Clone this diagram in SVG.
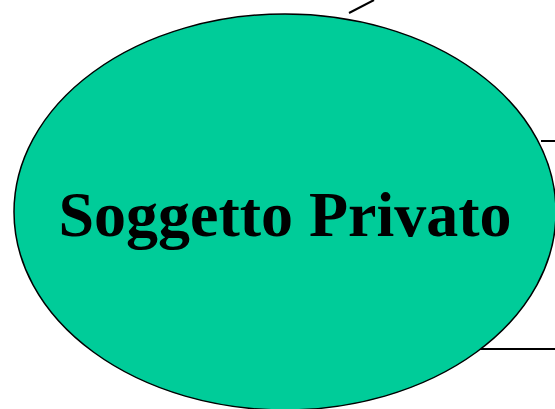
<svg xmlns="http://www.w3.org/2000/svg" width="555" height="409" viewBox="0 0 555 409">
<style>
.conn{stroke:#000;stroke-width:2;fill:none}
.lbl{font-family:"Liberation Serif","Times New Roman",serif;font-weight:bold;font-size:64px;fill:#000}
</style>
<rect width="555" height="409" fill="#fff"/>
<g id="connectors">
<line class="conn" x1="349" y1="13" x2="374" y2="0"/>
<line class="conn" x1="541" y1="141" x2="555" y2="141"/>
<line class="conn" x1="477" y1="349" x2="555" y2="349"/>
</g>
<g id="soggetto-privato">
<ellipse cx="285" cy="212" rx="271" ry="198" fill="#00CC99" stroke="#000" stroke-width="1.5"/>
<text class="lbl" x="285" y="236" text-anchor="middle">Soggetto Privato</text>
</g>
</svg>
